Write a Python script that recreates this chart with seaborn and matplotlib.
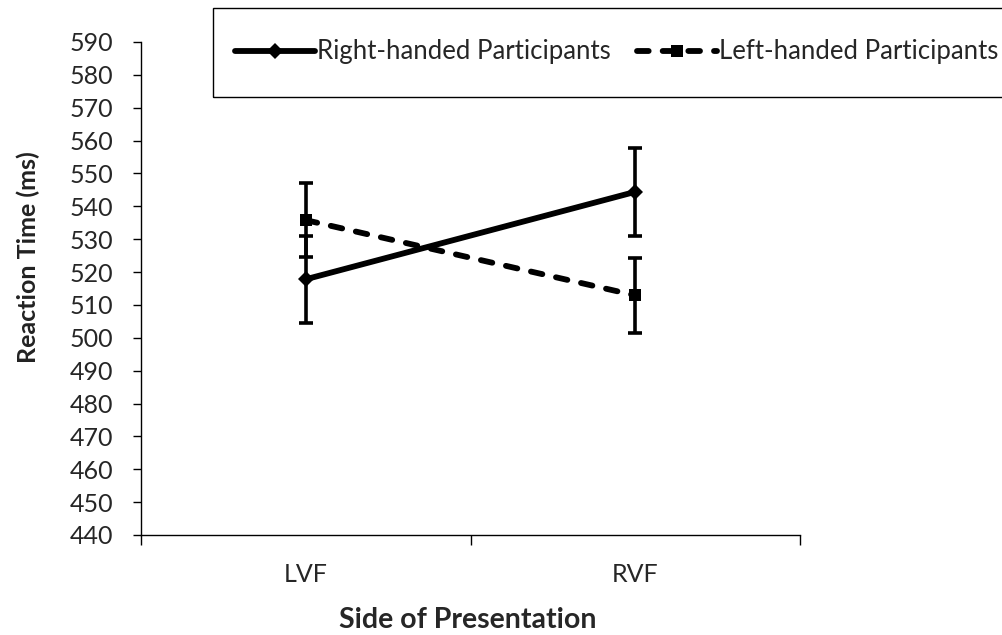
import matplotlib
matplotlib.use("Agg")
import matplotlib.pyplot as plt
from matplotlib.patches import Rectangle
import seaborn as sns
import pandas as pd

# Mean reaction times (ms) and error bar half-widths by visual field
sides = ["LVF", "RVF"]
groups = ["Right-handed Participants", "Left-handed Participants"]
right_rt = [517.8, 544.4]
right_err = [13.3, 13.3]
left_rt = [535.8, 512.9]
left_err = [11.2, 11.3]
y_ticks = list(range(440, 600, 10))

df = pd.DataFrame({
    "Side": sides * 2,
    "Group": [groups[0]] * 2 + [groups[1]] * 2,
    "RT": right_rt + left_rt,
    "Err": right_err + left_err,
})

sns.set_theme(style="white")
plt.rcParams["font.family"] = ["Lato", "DejaVu Sans"]

fig = plt.figure(figsize=(10.03, 6.35), dpi=100)
ax = fig.add_axes([0.1406, 0.1575, 0.657, 0.7764])

sns.lineplot(
    data=df, x="Side", y="RT", hue="Group", style="Group",
    palette={groups[0]: "black", groups[1]: "black"},
    markers={groups[0]: "D", groups[1]: "s"},
    dashes={groups[0]: "", groups[1]: (2.0, 2.4)},
    linewidth=4.2, markersize=8.5, markeredgewidth=0,
    ax=ax, legend=True,
)
for line in ax.lines:
    line.set_dash_capstyle("round")

for g, rt, err in [(groups[0], right_rt, right_err), (groups[1], left_rt, left_err)]:
    ax.errorbar(sides, rt, yerr=err, fmt="none", ecolor="black",
                elinewidth=2.6, capsize=5.2, capthick=2.6, zorder=1)

ax.set_xlim(-0.5, 1.5)
ax.set_ylim(440, 590)
ax.set_yticks(y_ticks)
ax.set_xticks([0, 1])
ax.set_xticks([-0.5, 0.5, 1.5], minor=True)
ax.tick_params(axis="x", which="major", length=0, pad=20, labelsize=18)
ax.tick_params(axis="x", which="minor", length=7, width=1, direction="out",
               bottom=True, color="black")
ax.tick_params(axis="y", which="major", length=6, width=1, direction="out",
               left=True, color="black", labelsize=18, pad=14)

for s in ["top", "right"]:
    ax.spines[s].set_visible(False)
for s in ["left", "bottom"]:
    ax.spines[s].set_color("black")
    ax.spines[s].set_linewidth(1.0)

ax.set_xlabel("")
ax.set_ylabel("")
fig.text(468 / 1003, 1 - 620 / 635, "Side of Presentation", ha="center", va="center",
         fontsize=20.5, fontweight="bold")
fig.text(28 / 1003, 1 - 257 / 635, "Reaction Time (ms)", ha="center", va="center",
         rotation=90, fontsize=18, fontweight="bold", color="#222222")

# Legend across the top, in a box running off the right edge
handles, labels = ax.get_legend_handles_labels()
for h in handles:
    h.set_dash_capstyle("round")
ax.get_legend().remove()
leg = fig.legend(handles, labels, ncol=2, frameon=False,
                 loc="center left", bbox_to_anchor=(225 / 1003, 1 - 52 / 635),
                 fontsize=18.5, handlelength=3.1, handletextpad=0.1,
                 columnspacing=1.0, borderaxespad=0)
fig.patches.append(Rectangle((213 / 1003, 1 - 97 / 635), 0.9, 89 / 635,
                             transform=fig.transFigure, fill=False,
                             edgecolor="black", linewidth=1.0))

fig.savefig("out.png", dpi=100)
